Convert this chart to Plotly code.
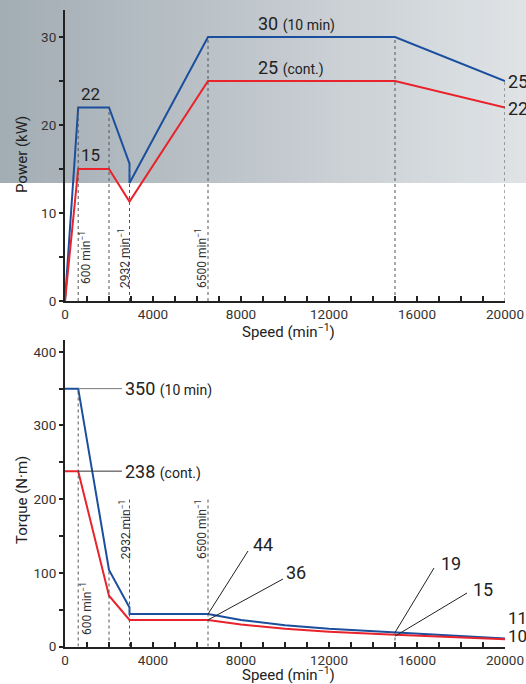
import plotly.graph_objects as go

# power curves (kW) vs speed (min-1)
speed_power_10min = [0, 600, 2000, 2932, 2932, 6500, 15000, 20000]
power_10min = [0, 22, 22, 15.6, 13.4, 30, 30, 25]
speed_power_cont = [0, 600, 2000, 2932, 6500, 15000, 20000]
power_cont = [0, 15, 15, 11.3, 25, 25, 22]

# torque curves (N·m) vs speed
speed_torque_10min = [0, 600, 2000, 2932, 2932, 6500, 8000, 10000, 12000, 15000, 17500, 20000]
torque_10min = [350, 350, 104, 53, 44, 44, 36, 29, 24, 19, 14.5, 11]
speed_torque_cont = [0, 600, 2000, 2932, 6500, 8000, 10000, 12000, 15000, 17500, 20000]
torque_cont = [238, 238, 69, 36, 36, 30, 24, 20, 16, 12.5, 10]

# reference speeds (dotted verticals) and how high they reach
ref_speed_power = [600, 2000, 2932, 6500, 15000, 20000]
ref_top_power = [22, 22, 15.6, 30, 30, 25]
ref_speed_torque = [600, 2000, 2932, 6500, 15000]
ref_top_torque = [350, 104, 200, 200, 19]

x_ticks = [0, 4000, 8000, 12000, 16000, 20000]
x_tick_text = ["0", "4000", "8000", "12000", "16000", "20000"]

BLUE = "#1b4f9e"
RED = "#e8232b"
FONT = "Roboto"
W, H = 526, 684


def px(x):
    return x / W


def py(y):
    return 1 - y / H


fig = go.Figure()

fig.add_trace(go.Scatter(x=speed_power_10min, y=power_10min, mode="lines",
                         line=dict(color=BLUE, width=2), xaxis="x", yaxis="y"))
fig.add_trace(go.Scatter(x=speed_power_cont, y=power_cont, mode="lines",
                         line=dict(color=RED, width=2), xaxis="x", yaxis="y"))
fig.add_trace(go.Scatter(x=speed_torque_10min, y=torque_10min, mode="lines",
                         line=dict(color=BLUE, width=2), xaxis="x2", yaxis="y2"))
fig.add_trace(go.Scatter(x=speed_torque_cont, y=torque_cont, mode="lines",
                         line=dict(color=RED, width=2), xaxis="x2", yaxis="y2"))

# dotted reference lines
for xs, tops, xa, ya in [(ref_speed_power, ref_top_power, "x", "y"),
                         (ref_speed_torque, ref_top_torque, "x2", "y2")]:
    for s, t in zip(xs, tops):
        fig.add_trace(go.Scatter(x=[s, s], y=[0, t], mode="lines",
                                 line=dict(color="#555", width=1, dash="dot"),
                                 xaxis=xa, yaxis=ya))

# gradient band behind the top of the power chart
n = 60
c0, c1 = (163, 173, 180), (223, 227, 230)
for i in range(n):
    f = i / (n - 1)
    col = tuple(round(a + (b - a) * f) for a, b in zip(c0, c1))
    fig.add_shape(type="rect", xref="paper", yref="paper",
                  x0=i / n, x1=(i + 1) / n + 0.002, y0=py(183), y1=1,
                  fillcolor="rgb(%d,%d,%d)" % col, line_width=0, layer="below")

axis_common = dict(showline=True, linecolor="#222", linewidth=2, showgrid=False,
                   zeroline=False, automargin=False, tickcolor="#222",
                   tickfont=dict(size=13.5, color="#333"))

fig.update_layout(
    width=W, height=H,
    margin=dict(l=0, r=0, t=0, b=0, autoexpand=False),
    paper_bgcolor="white",
    plot_bgcolor="rgba(0,0,0,0)",
    showlegend=False,
    font=dict(family=FONT, color="#333"),
    xaxis=dict(domain=[px(65), px(505)], range=[0, 20000], anchor="y",
               tickvals=x_ticks, ticktext=x_tick_text, ticks="inside", ticklen=5, tickwidth=1.5,
               minor=dict(dtick=1000, ticks="inside", ticklen=5, tickwidth=1.5, tickcolor="#222"),
               **axis_common),
    yaxis=dict(domain=[py(301), py(10)], range=[0, 33.07], anchor="x",
               dtick=10, ticks="outside", ticklen=4, tickwidth=1.5,
               minor=dict(dtick=5, ticks="outside", ticklen=4, tickwidth=1.5, tickcolor="#222"),
               **axis_common),
    xaxis2=dict(domain=[px(65), px(505)], range=[0, 20000], anchor="y2",
                tickvals=x_ticks, ticktext=x_tick_text, ticks="inside", ticklen=5, tickwidth=1.5,
                minor=dict(dtick=1000, ticks="inside", ticklen=5, tickwidth=1.5, tickcolor="#222"),
                **axis_common),
    yaxis2=dict(domain=[py(646.5), py(340)], range=[0, 416], anchor="x2",
                dtick=100, ticks="outside", ticklen=4, tickwidth=1.5,
                minor=dict(dtick=50, ticks="outside", ticklen=4, tickwidth=1.5, tickcolor="#222"),
                **axis_common),
)

ann = []


def text(x, y, t, size=18, xref="x", yref="y", xanchor="left", yanchor="middle", angle=0, color="#222"):
    ann.append(dict(x=x, y=y, xref=xref, yref=yref, text=t, showarrow=False,
                    xanchor=xanchor, yanchor=yanchor, textangle=angle,
                    font=dict(size=size, color=color, family=FONT)))


small = '<span style="font-size:14px">%s</span>'
sup = "min<sup>−1</sup>"

# axis titles
text(px(288), py(331), "Speed (" + sup + ")", 15, "paper", "paper", "center")
text(px(288), py(674), "Speed (" + sup + ")", 15, "paper", "paper", "center")
text(px(22), py(155), "Power (kW)", 15, "paper", "paper", "center", angle=-90)
text(px(22), py(500), "Torque (N·m)", 15, "paper", "paper", "center", angle=-90)

# power labels
text(1180, 22.2, "22", 17, yanchor="bottom", xanchor="center")
text(1180, 15.2, "15", 17, yanchor="bottom", xanchor="center")
text(8700, 30.1, "30 " + small % "(10 min)", 18, yanchor="bottom")
text(8700, 25.1, "25 " + small % "(cont.)", 18, yanchor="bottom")
# values at the end of the axis sit outside the plot, so place them on paper
text(px(506), py(81), "25", 18, "paper", "paper")
text(px(506), py(108), "22", 18, "paper", "paper")

# rotated speed labels
for xv, yv, lab, xr, yr in [(909, 4.9, "600 ", "x", "y"), (2682, 4.9, "2932 ", "x", "y"),
                            (6182, 4.9, "6500 ", "x", "y"), (955, 51, "600 ", "x2", "y2"),
                            (2727, 159, "2932 ", "x2", "y2"), (6214, 159, "6500 ", "x2", "y2")]:
    text(xv, yv, lab + sup, 12, xr, yr, "center", angle=-90, color="#333")

# torque labels
text(2636, 350, "350 " + small % "(10 min)", 18, "x2", "y2")
text(2636, 238, "238 " + small % "(cont.)", 18, "x2", "y2")
text(8450, 138, "44", 18, "x2", "y2")
text(9950, 100, "36", 18, "x2", "y2")
text(17000, 113, "19", 18, "x2", "y2")
text(18450, 77, "15", 18, "x2", "y2")
text(px(506), py(618), "11", 17, "paper", "paper")
text(px(506), py(636), "10", 17, "paper", "paper")

fig.update_layout(annotations=ann)

# leader lines
for x0, y0, x1, y1, col in [(600, 350, 2590, 350, "#777"), (600, 238, 2590, 238, "#333"),
                            (6500, 44, 8318, 129.6, "#222"), (6500, 36, 9909, 91.6, "#222"),
                            (15000, 19, 16773, 106.5, "#222"), (15000, 14, 18273, 72.6, "#222")]:
    fig.add_shape(type="line", xref="x2", yref="y2", x0=x0, y0=y0, x1=x1, y1=y1,
                  line=dict(color=col, width=1))

# drop the default 8px page margin so the figure fills the window
fig.write_html("out.html", config={"displayModeBar": False},
               post_script="document.body.style.margin='0';")
